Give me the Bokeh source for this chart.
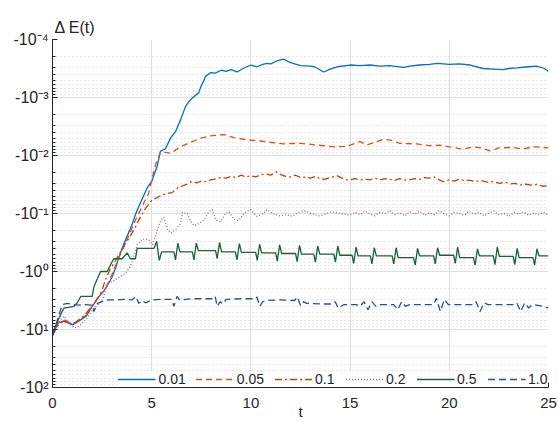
from bokeh.plotting import figure
from bokeh.models import Range1d, FixedTicker, LogTicker, CustomJSTickFormatter
from bokeh.embed import file_html
from bokeh.resources import INLINE

# Values, stored as log10(-dE) (the y axis is log of -dE)
T_001 = [0, 0.3, 0.6, 1.0, 1.3, 1.7, 2.0, 2.3, 2.6, 2.8,
         3.0, 3.2, 3.4, 3.6, 3.8, 4.0, 4.2, 4.4, 4.6, 4.8,
         5.0, 5.27, 5.44, 5.7, 5.95, 6.2, 6.45, 6.7, 6.87, 7.1,
         7.37, 7.47, 7.64, 7.7, 7.97, 8.2, 8.5, 8.75, 9.0, 9.3,
         9.6, 10.0, 10.3, 10.6, 10.8, 11.0, 11.3, 11.66, 12.0, 12.5,
         13.0, 13.2, 13.67, 14.0, 14.35, 15.0, 15.5, 16.0, 16.5, 17.0,
         17.7, 18.0, 18.5, 19.0, 19.4, 20.0, 20.5, 21.05, 21.7, 22.2,
         22.7, 23.0, 23.4, 24.0, 24.4, 24.8, 25.0]
E_001 = [1.10, 0.88, 0.86, 0.92, 0.86, 0.77, 0.60, 0.45, 0.33, 0.22,
         0.10, -0.08, -0.30, -0.48, -0.64, -0.80, -1.00, -1.16, -1.31, -1.46,
         -1.55, -1.81, -2.07, -2.12, -2.30, -2.41, -2.61, -2.84, -2.93, -3.01,
         -3.08, -3.18, -3.30, -3.36, -3.43, -3.42, -3.47, -3.45, -3.48, -3.44,
         -3.50, -3.56, -3.53, -3.57, -3.59, -3.58, -3.63, -3.66, -3.60, -3.55,
         -3.54, -3.53, -3.44, -3.49, -3.53, -3.56, -3.55, -3.56, -3.54, -3.55,
         -3.52, -3.54, -3.56, -3.57, -3.59, -3.57, -3.58, -3.56, -3.50, -3.49,
         -3.48, -3.50, -3.51, -3.53, -3.54, -3.50, -3.45]

T_005 = [0, 0.3, 0.6, 1.0, 1.3, 1.7, 2.0, 2.3, 2.6, 2.8,
         3.0, 3.2, 3.4, 3.6, 3.8, 4.0, 4.2, 4.4, 4.6, 4.85,
         5.0, 5.2, 5.46, 5.96, 6.46, 6.97, 7.47, 7.97, 8.64, 9.14,
         9.82, 10.49, 11.16, 11.66, 12.5, 13.34, 14.17, 14.85, 15.0, 15.5,
         15.85, 16.35, 16.7, 17.1, 17.5, 18.35, 19.0, 19.5, 20.0, 20.7,
         21.2, 21.6, 22.06, 22.5, 23.2, 23.7, 24.2, 24.7, 25.0]
E_005 = [1.10, 0.88, 0.84, 0.90, 0.85, 0.75, 0.60, 0.45, 0.33, 0.20,
         0.05, -0.12, -0.28, -0.44, -0.58, -0.74, -0.90, -1.04, -1.18, -1.35,
         -1.58, -1.85, -2.07, -2.04, -2.15, -2.23, -2.30, -2.34, -2.36, -2.31,
         -2.27, -2.25, -2.22, -2.20, -2.21, -2.18, -2.15, -2.16, -2.18, -2.24,
         -2.18, -2.24, -2.28, -2.26, -2.21, -2.20, -2.17, -2.18, -2.15, -2.11,
         -2.15, -2.13, -2.08, -2.13, -2.14, -2.11, -2.15, -2.14, -2.13]

T_01 = [0, 0.3, 0.55, 0.83, 1.1, 1.33, 1.6, 1.84, 2.1, 2.34,
        2.5, 2.67, 2.93, 3.1, 3.34, 3.5, 3.68, 3.85, 4.0, 4.2,
        4.35, 4.5, 4.69, 4.85, 5.0, 5.19, 5.52, 5.86, 6.03, 6.36,
        6.6, 6.87, 7.0, 7.28, 7.5, 7.75, 7.97, 8.25, 8.5, 8.75,
        8.98, 9.25, 9.5, 9.75, 10.0, 10.25, 10.5, 10.8, 11.0, 11.3,
        11.5, 11.75, 12.0, 12.25, 12.5, 12.8, 13.0, 13.25, 13.5, 13.7,
        14.0, 14.35, 14.6, 14.8, 15.0, 15.25, 15.5, 15.85, 16.0, 16.25,
        16.5, 16.75, 17.0, 17.25, 17.5, 17.75, 18.0, 18.25, 18.5, 18.75,
        19.0, 19.25, 19.5, 19.7, 20.0, 20.25, 20.5, 20.75, 21.05, 21.3,
        21.6, 21.9, 22.2, 22.56, 22.8, 23.1, 23.3, 23.57, 23.8, 24.1,
        24.4, 24.7, 25.0]
E_01 = [1.10, 0.92, 0.85, 0.89, 0.90, 0.83, 0.76, 0.66, 0.55, 0.43,
        0.32, 0.14, -0.06, -0.14, -0.29, -0.36, -0.49, -0.57, -0.66, -0.78,
        -0.89, -0.98, -1.09, -1.16, -1.23, -1.26, -1.32, -1.35, -1.36, -1.46,
        -1.48, -1.52, -1.55, -1.53, -1.56, -1.55, -1.58, -1.60, -1.62, -1.61,
        -1.64, -1.62, -1.66, -1.63, -1.65, -1.63, -1.67, -1.68, -1.66, -1.72,
        -1.67, -1.64, -1.63, -1.66, -1.62, -1.63, -1.61, -1.64, -1.60, -1.59,
        -1.62, -1.65, -1.61, -1.58, -1.58, -1.60, -1.58, -1.59, -1.58, -1.61,
        -1.58, -1.60, -1.59, -1.57, -1.60, -1.58, -1.58, -1.60, -1.59, -1.62,
        -1.61, -1.63, -1.58, -1.55, -1.58, -1.56, -1.59, -1.57, -1.57, -1.55,
        -1.57, -1.54, -1.55, -1.52, -1.54, -1.51, -1.52, -1.49, -1.51, -1.49,
        -1.50, -1.47, -1.48]

T_02 = [0, 0.33, 0.58, 0.83, 1.08, 1.33, 1.67, 2.09, 2.42, 2.59,
        2.67, 2.84, 3.18, 3.68, 3.93, 4.1, 4.27, 4.52, 4.85, 5.04,
        5.46, 5.62, 5.8, 5.96, 6.2, 6.46, 6.55, 6.8, 6.97, 7.14,
        7.39, 7.64, 7.89, 8.05, 8.22, 8.47, 8.72, 8.9, 9.14, 9.39,
        9.64, 9.97, 10.3, 10.64, 10.8, 11.1, 11.47, 11.8, 12.1, 12.4,
        12.75, 13.05, 13.4, 13.7, 14.05, 14.4, 14.7, 15.0, 15.25, 15.5,
        15.75, 16.0, 16.25, 16.5, 16.75, 17.0, 17.25, 17.5, 17.75, 18.0,
        18.25, 18.5, 18.75, 19.0, 19.25, 19.5, 19.75, 20.0, 20.25, 20.5,
        20.75, 21.0, 21.25, 21.5, 21.75, 22.0, 22.25, 22.5, 22.75, 23.0,
        23.25, 23.5, 23.75, 24.0, 24.25, 24.5, 24.75, 25.0]
E_02 = [1.10, 0.86, 0.77, 0.89, 0.97, 0.95, 0.83, 0.63, 0.54, 0.43,
        0.31, 0.20, 0.14, 0.03, -0.09, -0.26, -0.46, -0.56, -0.55, -0.46,
        -0.89, -0.93, -0.72, -0.66, -0.72, -0.83, -1.02, -1.00, -0.86, -0.79,
        -0.83, -0.89, -1.03, -1.07, -0.89, -0.86, -1.00, -1.03, -0.90, -0.88,
        -1.00, -1.07, -0.95, -1.00, -1.07, -1.00, -0.96, -0.98, -0.95, -1.02,
        -1.04, -1.00, -0.96, -0.98, -1.03, -1.01, -0.99, -0.97, -1.02, -0.98,
        -1.04, -0.99, -0.96, -1.02, -1.00, -1.05, -0.98, -1.01, -0.96, -1.03,
        -0.99, -1.04, -0.97, -1.01, -0.98, -1.05, -0.99, -0.96, -1.02, -1.00,
        -0.97, -1.04, -0.99, -1.02, -0.96, -1.01, -1.04, -0.98, -1.00, -0.95,
        -1.02, -0.99, -1.03, -0.97, -1.01, -0.98, -1.02, -0.97]

T_05 = [0, 0.08, 0.41, 0.58, 1.08, 1.25, 1.42, 2.0, 2.09, 2.42,
        2.76, 2.93, 3.09, 3.51, 3.76, 3.93, 4.18, 4.27, 4.85, 5.12,
        5.25, 5.38, 5.5, 6.12, 6.2, 6.32, 6.42, 7.05, 7.13, 7.25,
        7.35, 8.22, 8.3, 8.42, 8.52, 9.22, 9.3, 9.42, 9.52, 10.24,
        10.32, 10.44, 10.54, 11.25, 11.33, 11.45, 11.55, 12.25, 12.33, 12.45,
        12.55, 13.17, 13.25, 13.37, 13.47, 14.18, 14.26, 14.38, 14.48, 15.1,
        15.18, 15.3, 15.4, 16.02, 16.1, 16.22, 16.32, 17.12, 17.2, 17.32,
        17.42, 18.2, 18.28, 18.4, 18.5, 19.21, 19.29, 19.41, 19.51, 20.22,
        20.3, 20.42, 20.52, 21.22, 21.3, 21.42, 21.52, 22.22, 22.3, 22.42,
        22.52, 23.22, 23.3, 23.42, 23.52, 24.22, 24.3, 24.42, 24.52, 25.0]
E_05 = [1.10, 1.00, 0.74, 0.63, 0.60, 0.54, 0.43, 0.43, 0.26, 0.0,
        0.0, -0.12, -0.22, -0.22, -0.32, -0.22, -0.22, -0.40, -0.40, -0.40,
        -0.52, -0.19, -0.34, -0.34, -0.20, -0.49, -0.34, -0.34, -0.20, -0.49,
        -0.36, -0.36, -0.22, -0.50, -0.34, -0.34, -0.20, -0.48, -0.33, -0.33,
        -0.19, -0.47, -0.32, -0.32, -0.18, -0.46, -0.31, -0.31, -0.17, -0.45,
        -0.30, -0.30, -0.16, -0.44, -0.30, -0.30, -0.16, -0.44, -0.28, -0.28,
        -0.14, -0.42, -0.27, -0.27, -0.13, -0.41, -0.27, -0.27, -0.13, -0.41,
        -0.24, -0.24, -0.11, -0.40, -0.27, -0.27, -0.13, -0.41, -0.28, -0.28,
        -0.14, -0.42, -0.24, -0.24, -0.11, -0.39, -0.27, -0.27, -0.12, -0.42,
        -0.26, -0.26, -0.12, -0.40, -0.24, -0.24, -0.11, -0.39, -0.27, -0.27]

T_10 = [0, 0.08, 0.33, 0.5, 0.75, 1.0, 1.33, 1.67, 2.0, 2.09,
        2.26, 2.5, 2.84, 3.2, 3.6, 4.0, 4.2, 4.35, 4.5, 4.69,
        5.0, 5.5, 6.0, 6.12, 6.28, 6.4, 7.0, 7.5, 8.1, 8.2,
        8.3, 8.45, 8.6, 8.75, 9.5, 10.2, 10.3, 10.45, 10.6, 10.75,
        11.5, 12.2, 12.35, 12.5, 12.65, 12.8, 13.5, 14.1, 14.25, 14.4,
        14.55, 14.7, 15.3, 15.5, 15.7, 15.9, 16.1, 16.3, 16.5, 17.2,
        17.4, 17.6, 17.8, 18.0, 19.2, 19.35, 19.55, 19.75, 19.95, 21.2,
        21.35, 21.55, 21.75, 21.95, 23.2, 23.4, 23.6, 23.8, 24.0, 24.2,
        24.7, 25.0]
E_10 = [1.10, 1.03, 0.74, 0.57, 0.55, 0.57, 0.58, 0.57, 0.58, 0.69,
        0.55, 0.52, 0.49, 0.49, 0.48, 0.49, 0.43, 0.55, 0.50, 0.54,
        0.49, 0.48, 0.48, 0.60, 0.43, 0.49, 0.47, 0.47, 0.47, 0.43,
        0.60, 0.52, 0.56, 0.48, 0.47, 0.47, 0.44, 0.60, 0.52, 0.50,
        0.49, 0.50, 0.44, 0.59, 0.52, 0.55, 0.56, 0.56, 0.52, 0.63,
        0.60, 0.57, 0.57, 0.60, 0.52, 0.66, 0.52, 0.60, 0.57, 0.57,
        0.66, 0.52, 0.60, 0.57, 0.57, 0.46, 0.69, 0.48, 0.57, 0.57,
        0.52, 0.69, 0.54, 0.57, 0.57, 0.54, 0.69, 0.54, 0.63, 0.57,
        0.60, 0.63]

LABELS = ["0.01", "0.05", "0.1", "0.2", "0.5", "1.0"]
COLORS = ["#0072BD", "#D95319", "#B5450F", "#A855C0", "#1E5E3A", "#2F4D8C"]
DASHES = ["solid", "6 4", "7 3 2 3", "1 2", "solid", "7 4"]

SERIES = [(T_001, E_001), (T_005, E_005), (T_01, E_01),
          (T_02, E_02), (T_05, E_05), (T_10, E_10)]

FONT = "Liberation Sans"
INK = "#262626"

p = figure(width=558, height=422, x_range=Range1d(0, 25),
           y_range=Range1d(1e2, 1e-4), y_axis_type="log",
           output_backend="svg", toolbar_location=None,
           min_border_left=52, min_border_right=10,
           min_border_top=39, min_border_bottom=34)
p.outline_line_color = None
p.background_fill_color = "white"

for (t, e), lab, col, dash in zip(SERIES, LABELS, COLORS, DASHES):
    mag = [10 ** v for v in e]          # -dE, plotted on the log axis
    p.line(t, mag, line_color=col, line_width=1.3, line_dash=dash,
           legend_label=lab)

# title (y label placed on top, MATLAB style)
p.title.text = "\u0394 E(t)"
p.title.align = "left"
p.title.text_font = FONT
p.title.text_font_size = "16px"
p.title.text_font_style = "normal"
p.title.text_color = INK
p.title.standoff = 8
p.title.offset = 2

# axes
p.xaxis.ticker = FixedTicker(ticks=[0, 5, 10, 15, 20, 25])
p.yaxis.ticker = LogTicker(num_minor_ticks=10)
p.yaxis.formatter = CustomJSTickFormatter(code="""
const e = Math.round(Math.log10(tick));
const sup = {"-":"\u207b","0":"\u2070","1":"\u00b9","2":"\u00b2","3":"\u00b3",
             "4":"\u2074","5":"\u2075","6":"\u2076","7":"\u2077","8":"\u2078","9":"\u2079"};
return "-10" + String(e).split("").map(c => sup[c]).join("");
""")
for ax in (p.xaxis[0], p.yaxis[0]):
    ax.axis_line_color = INK
    ax.major_tick_line_color = INK
    ax.minor_tick_line_color = INK
    ax.major_tick_in = 5
    ax.major_tick_out = 0
    ax.minor_tick_in = 3
    ax.minor_tick_out = 0
    ax.major_label_text_color = INK
    ax.major_label_text_font = FONT
p.xaxis.minor_tick_line_color = None
p.xaxis.major_label_text_font_size = "15px"
p.yaxis.major_label_text_font_size = "16px"
p.xaxis.major_label_standoff = 10
p.yaxis.major_label_standoff = 4
p.xaxis.axis_label = "t"
p.xaxis.axis_label_text_font = FONT
p.xaxis.axis_label_text_font_size = "15px"
p.xaxis.axis_label_text_font_style = "normal"
p.xaxis.axis_label_text_color = INK
p.xaxis.axis_label_standoff = -8

# grids
p.xgrid.grid_line_color = "#dfdfdf"
p.ygrid.grid_line_color = "#dfdfdf"
p.ygrid.minor_grid_line_color = "#d0d0d0"
p.ygrid.minor_grid_line_dash = "1 3"

# legend
lg = p.legend[0]
lg.location = "bottom_right"
lg.orientation = "horizontal"
lg.margin = 0
lg.padding = 3
lg.spacing = 10
lg.glyph_width = 38
lg.glyph_height = 16
lg.label_standoff = 3
lg.label_text_font = FONT
lg.label_text_font_size = "14px"
lg.label_text_color = INK
lg.border_line_color = None
lg.background_fill_alpha = 1.0

open("out.html", "w").write(file_html(p, INLINE))
